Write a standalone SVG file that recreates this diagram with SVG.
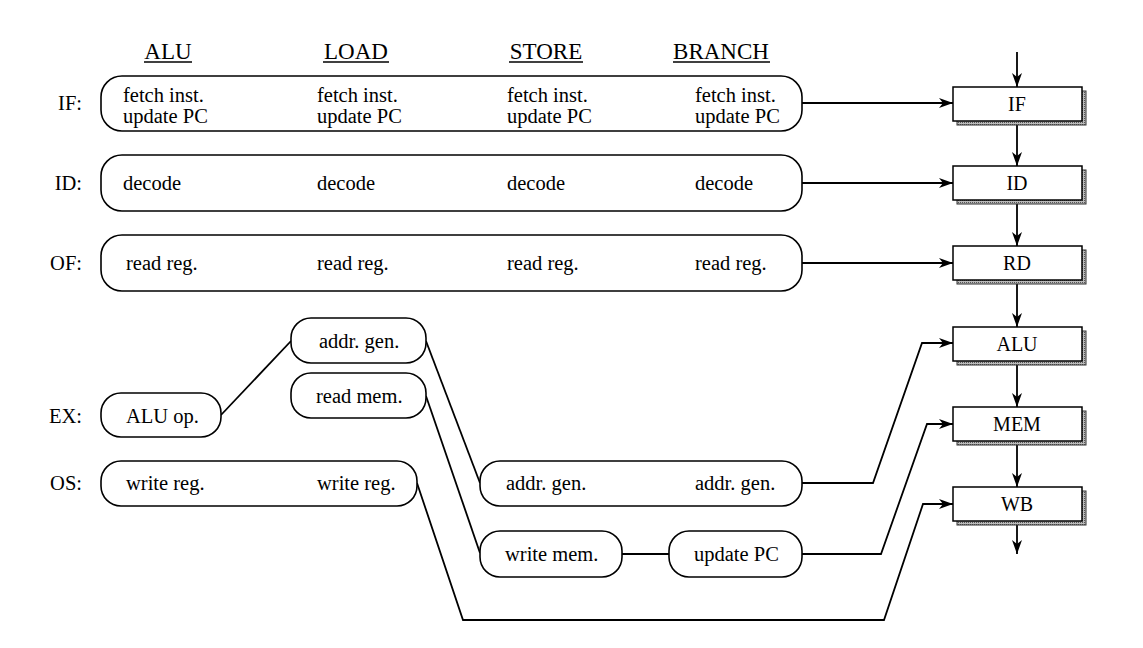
<svg xmlns="http://www.w3.org/2000/svg" width="1143" height="648" viewBox="0 0 1143 648">
<defs>
<marker id="ah" markerWidth="15" markerHeight="11" refX="14" refY="5.5" orient="auto" markerUnits="userSpaceOnUse">
<path d="M0,0.5 L14,5.5 L0,10.5 L4,5.5 z" fill="#000"/>
</marker>
<pattern id="stip" width="2" height="2" patternUnits="userSpaceOnUse">
<rect width="2" height="2" fill="#bbb"/>
<rect width="1" height="1" fill="#555"/>
</pattern>
<style>
text{font-family:"Liberation Serif","Times New Roman",Tinos,"DejaVu Serif",serif;fill:#000}
.t{font-size:20.5px}
.h{font-size:23px;text-anchor:middle}
.lab{font-size:20.5px;text-anchor:end}
.pt{font-size:20px;text-anchor:middle}
.rb{fill:#fff;stroke:#000;stroke-width:1.6}
.pb{fill:#fff;stroke:#000;stroke-width:1.5}
.sh{fill:url(#stip);stroke:#333;stroke-width:1}
.c{fill:none;stroke:#000;stroke-width:1.8}
.ca{fill:none;stroke:#000;stroke-width:1.8;marker-end:url(#ah)}
.ul{stroke:#000;stroke-width:1.3}
</style>
</defs>
<rect width="1143" height="648" fill="#fff"/>

<g id="headers">
<text class="h" x="168" y="59">ALU</text><line class="ul" x1="144" y1="62" x2="192" y2="62"/>
<text class="h" x="356" y="59">LOAD</text><line class="ul" x1="323" y1="62" x2="389" y2="62"/>
<text class="h" x="546" y="59">STORE</text><line class="ul" x1="509" y1="62" x2="583" y2="62"/>
<text class="h" x="721" y="59">BRANCH</text><line class="ul" x1="673" y1="62" x2="770" y2="62"/>
</g>

<g id="row-labels">
<text class="lab" x="82" y="110">IF:</text>
<text class="lab" x="82" y="190">ID:</text>
<text class="lab" x="82" y="270">OF:</text>
<text class="lab" x="82" y="423">EX:</text>
<text class="lab" x="82" y="490">OS:</text>
</g>

<g id="connectors">
<line class="ca" x1="1017" y1="52" x2="1017" y2="87"/>
<line class="ca" x1="1017" y1="121" x2="1017" y2="166"/>
<line class="ca" x1="1017" y1="200" x2="1017" y2="246"/>
<line class="ca" x1="1017" y1="280" x2="1017" y2="327"/>
<line class="ca" x1="1017" y1="361" x2="1017" y2="407"/>
<line class="ca" x1="1017" y1="441" x2="1017" y2="487"/>
<line class="ca" x1="1017" y1="521" x2="1017" y2="554"/>
<line class="ca" x1="802" y1="103" x2="953" y2="103"/>
<line class="ca" x1="802" y1="183" x2="953" y2="183"/>
<line class="ca" x1="802" y1="263" x2="953" y2="263"/>
<polyline class="ca" points="802,483 873,483 922,343 953,343"/>
<polyline class="ca" points="802,554 881,554 927,424 953,424"/>
<polyline class="ca" points="417,483 463,620 884,620 923,504 953,504"/>
<line class="c" x1="221" y1="415" x2="291" y2="341"/>
<line class="c" x1="426" y1="341" x2="480" y2="483"/>
<line class="c" x1="426" y1="396" x2="480" y2="553"/>
<line class="c" x1="622" y1="554" x2="669" y2="554"/>
</g>

<g id="IF-row">
<rect class="rb" x="101" y="76" width="701" height="55" rx="21" ry="21"/>
<text class="t" x="123" y="102">fetch inst.</text><text class="t" x="123" y="123">update PC</text>
<text class="t" x="317" y="102">fetch inst.</text><text class="t" x="317" y="123">update PC</text>
<text class="t" x="507" y="102">fetch inst.</text><text class="t" x="507" y="123">update PC</text>
<text class="t" x="695" y="102">fetch inst.</text><text class="t" x="695" y="123">update PC</text>
</g>
<g id="ID-row">
<rect class="rb" x="101" y="155" width="701" height="56" rx="21" ry="21"/>
<text class="t" x="123" y="190">decode</text>
<text class="t" x="317" y="190">decode</text>
<text class="t" x="507" y="190">decode</text>
<text class="t" x="695" y="190">decode</text>
</g>
<g id="OF-row">
<rect class="rb" x="101" y="235" width="701" height="56" rx="21" ry="21"/>
<text class="t" x="126" y="270">read reg.</text>
<text class="t" x="317" y="270">read reg.</text>
<text class="t" x="507" y="270">read reg.</text>
<text class="t" x="695" y="270">read reg.</text>
</g>
<g id="EX-alu">
<rect class="rb" x="101" y="393" width="120" height="44" rx="20" ry="20"/>
<text class="t" x="126" y="423">ALU op.</text>
</g>
<g id="EX-load-addr">
<rect class="rb" x="291" y="318" width="135" height="45" rx="20" ry="20"/>
<text class="t" x="319" y="348">addr. gen.</text>
</g>
<g id="EX-load-mem">
<rect class="rb" x="291" y="373" width="135" height="45" rx="20" ry="20"/>
<text class="t" x="316" y="403">read mem.</text>
</g>
<g id="OS-row">
<rect class="rb" x="101" y="461" width="316" height="45" rx="20" ry="20"/>
<text class="t" x="126" y="490">write reg.</text>
<text class="t" x="317" y="490">write reg.</text>
</g>
<g id="store-branch-addr">
<rect class="rb" x="480" y="461" width="322" height="45" rx="20" ry="20"/>
<text class="t" x="506" y="490">addr. gen.</text>
<text class="t" x="695" y="490">addr. gen.</text>
</g>
<g id="write-mem">
<rect class="rb" x="480" y="531" width="142" height="46" rx="20" ry="20"/>
<text class="t" x="505" y="561">write mem.</text>
</g>
<g id="update-pc">
<rect class="rb" x="669" y="531" width="133" height="46" rx="20" ry="20"/>
<text class="t" x="694" y="561">update PC</text>
</g>

<g id="pipe-IF"><rect class="sh" x="957" y="91" width="129" height="34"/><rect class="pb" x="953" y="87" width="129" height="34"/><text class="pt" x="1017" y="111">IF</text></g>
<g id="pipe-ID"><rect class="sh" x="957" y="170" width="129" height="34"/><rect class="pb" x="953" y="166" width="129" height="34"/><text class="pt" x="1017" y="190">ID</text></g>
<g id="pipe-RD"><rect class="sh" x="957" y="250" width="129" height="34"/><rect class="pb" x="953" y="246" width="129" height="34"/><text class="pt" x="1017" y="270">RD</text></g>
<g id="pipe-ALU"><rect class="sh" x="957" y="331" width="129" height="34"/><rect class="pb" x="953" y="327" width="129" height="34"/><text class="pt" x="1017" y="351">ALU</text></g>
<g id="pipe-MEM"><rect class="sh" x="957" y="411" width="129" height="34"/><rect class="pb" x="953" y="407" width="129" height="34"/><text class="pt" x="1017" y="431">MEM</text></g>
<g id="pipe-WB"><rect class="sh" x="957" y="491" width="129" height="34"/><rect class="pb" x="953" y="487" width="129" height="34"/><text class="pt" x="1017" y="511">WB</text></g>
</svg>
